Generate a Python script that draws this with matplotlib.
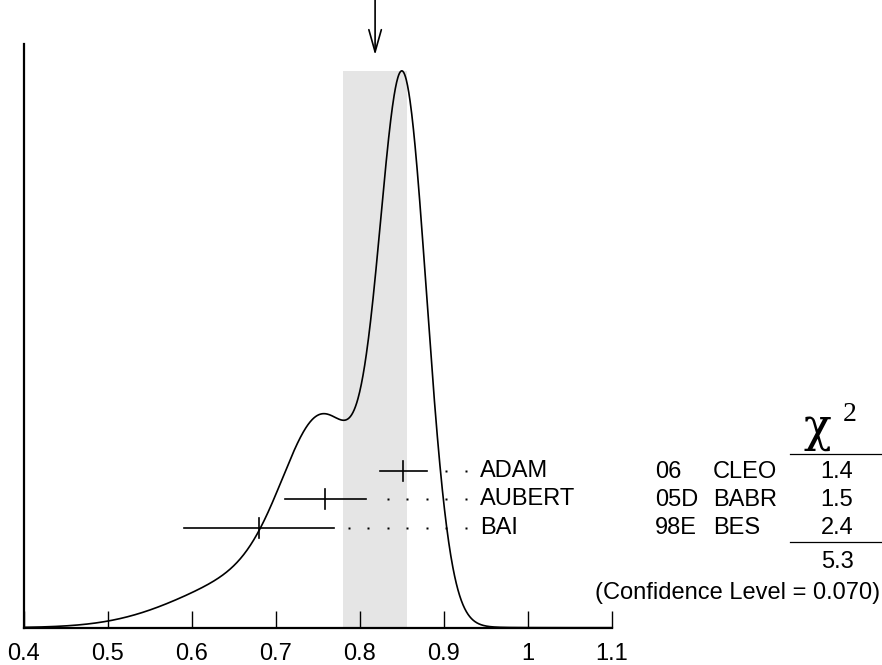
import numpy as np
import matplotlib
matplotlib.use("Agg")
import matplotlib.pyplot as plt

plt.rcParams['font.family'] = ['Liberation Sans', 'DejaVu Sans']

# ---- data ----
authors = ["ADAM", "AUBERT", "BAI"]
years = ["06", "05D", "98E"]
experiments = ["CLEO", "BABR", "BES"]
values = [0.852, 0.759, 0.680]
errors = [0.028, 0.048, 0.089]
chi2_labels = ["1.4", "1.5", "2.4"]
chi2_total = "5.3"
conf_level = "0.070"
xticks = [0.4, 0.5, 0.6, 0.7, 0.8, 0.9, 1.0, 1.1]
xtick_labels = ["0.4", "0.5", "0.6", "0.7", "0.8", "0.9", "1", "1.1"]
scale_factor = 1.63

values_a = np.array(values)
errors_a = np.array(errors)
w = 1.0 / errors_a**2
mean = np.sum(w * values_a) / np.sum(w)
err = scale_factor / np.sqrt(np.sum(w))

FS = 17
W, H = 882, 665
fig = plt.figure(figsize=(W / 100, H / 100), dpi=100)
x0p, x1p, y0p, y1p = 24, 611.7, 627.7, 44
ax = fig.add_axes([x0p / W, 1 - y0p / H, (x1p - x0p) / W, (y0p - y1p) / H])
ax.set_xlim(0.4, 1.1)
ax.set_ylim(0, 1)

# ideogram
xs = np.linspace(0.4, 1.1, 1400)
ideo = np.zeros_like(xs)
for v, e in zip(values, errors):
    ideo += (1.0 / e**2) * np.exp(-0.5 * ((xs - v) / e) ** 2)
top = 0.954
ideo = ideo / ideo.max() * top

ax.fill_between([mean - err, mean + err], 0, top, color='#e5e5e5', lw=0, zorder=0)
ax.plot(xs, ideo, color='black', lw=1.2, zorder=3)

# measurements
rows_y = [0.269, 0.2205, 0.171]
label_x = 0.4 + (480 - 24) / 839.6
dot_first = 0.4 + (466 - 24) / 839.6
dot_step = 19.5 / 839.6
for v, e, yy, name in zip(values, errors, rows_y, authors):
    ax.plot([v - e, v + e], [yy, yy], color='black', lw=1.2, zorder=4)
    ax.plot([v, v], [yy - 10 / 583.7, yy + 10 / 583.7], color='black', lw=1.2, zorder=4)
    dx = []
    d = dot_first
    while d > v + e + 6 / 839.6:
        dx.append(d)
        d -= dot_step
    ax.plot(dx, [yy] * len(dx), ls='none', marker='s', ms=1.5, color='black',
            mec='none', zorder=4)
    ax.text(label_x, yy, name, ha='left', va='center', fontsize=FS, clip_on=False)

# arrow at weighted mean
ax.annotate('', xy=(mean, (y0p - 55) / (y0p - y1p)), xytext=(mean, (y0p - 0) / (y0p - y1p)),
            xycoords=('data', 'axes fraction'), textcoords=('data', 'axes fraction'),
            arrowprops=dict(arrowstyle='->,head_length=1.6,head_width=0.45', lw=1.2,
                            color='black', shrinkA=0, shrinkB=0, mutation_scale=10),
            annotation_clip=False)

# axes styling
for s in ['top', 'right']:
    ax.spines[s].set_visible(False)
ax.spines['left'].set_linewidth(1.6)
ax.spines['bottom'].set_linewidth(1.6)
ax.set_yticks([])
ax.set_xticks(xticks)
ax.set_xticklabels(xtick_labels, fontsize=FS)
ax.tick_params(axis='x', direction='in', length=12, width=1.0, pad=11)

# table on the right
def ft(xp, yp, s, **kw):
    fig.text(xp / W, 1 - yp / H, s, **kw)

ft(817, 441, "χ", fontsize=33, family=['DejaVu Serif'], ha='center', va='baseline')
ft(843, 421, "2", fontsize=20, family=['Liberation Serif', 'DejaVu Serif'], ha='left',
   va='baseline')
fig.add_artist(plt.Line2D([790 / W, 882 / W], [1 - 454 / H, 1 - 454 / H], color='black', lw=0.9))
fig.add_artist(plt.Line2D([790 / W, 882 / W], [1 - 542 / H, 1 - 542 / H], color='black', lw=0.9))
table_y = [472, 500, 528]
for yy, yr, ex, c in zip(table_y, years, experiments, chi2_labels):
    ft(655, yy, yr, fontsize=FS, ha='left', va='center')
    ft(713, yy, ex, fontsize=FS, ha='left', va='center')
    ft(837, yy, c, fontsize=FS, ha='center', va='center')
ft(837, 562, chi2_total, fontsize=FS, ha='center', va='center')
ft(880, 593, "(Confidence Level = " + conf_level + ")", fontsize=FS, ha='right', va='center')

fig.savefig('out.png', dpi=100)
